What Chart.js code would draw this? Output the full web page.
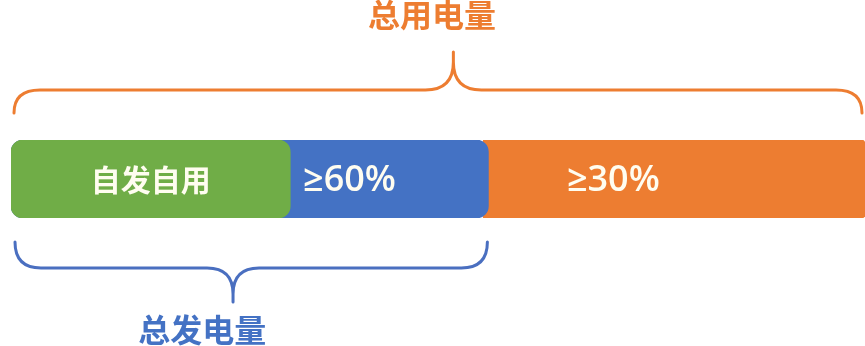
<!DOCTYPE html>
<html>
<head>
<meta charset="utf-8">
<script src="https://cdn.jsdelivr.net/npm/chart.js@4"></script>
<style>
  html, body { margin: 0; padding: 0; background: #ffffff; }
  #wrap { width: 865px; height: 346px; position: relative; }
</style>
</head>
<body>
<div id="wrap"><canvas id="powerChart"></canvas></div>
<script>
// one row: share of total consumption (0-100 along the bar)
var categories = ['用电量'];
var segmentLabels = ['自发自用', '≥60%', '≥30%'];
var segmentStart = [0, 0, 55.3];
var segmentEnd = [32.7, 55.9, 100];
var segmentColors = ['#70ad47', '#4472c4', '#ed7d31'];

var topTitle = '总用电量';
var bottomTitle = '总发电量';

// braces, labels and titles drawn on top of the bars
var annotations = {
    id: 'annotations',
    afterDatasetsDraw: function (chart) {
        var ctx = chart.ctx;
        var x = chart.scales.x;
        var area = chart.chartArea;
        var midY = (area.top + area.bottom) / 2;
        var px = function (v) { return x.getPixelForValue(v); };

        function brace(x0, x1, tipX, y, endY, tipY, re, rt, color) {
            var d = tipY < y ? -1 : 1;
            ctx.save();
            ctx.strokeStyle = color;
            ctx.lineWidth = 3;
            ctx.lineCap = 'round';
            ctx.beginPath();
            ctx.moveTo(x0, endY);
            ctx.quadraticCurveTo(x0, y, x0 + re, y);
            ctx.lineTo(tipX - rt, y);
            ctx.quadraticCurveTo(tipX, y, tipX, y + d * rt);
            ctx.lineTo(tipX, tipY);
            ctx.moveTo(tipX, y + d * rt);
            ctx.quadraticCurveTo(tipX, y, tipX + rt, y);
            ctx.lineTo(x1 - re, y);
            ctx.quadraticCurveTo(x1, y, x1, endY);
            ctx.stroke();
            ctx.restore();
        }

        // total consumption covers the whole bar, generation covers green + blue
        brace(px(segmentStart[0]) + 3, px(segmentEnd[2]) - 3, px(51.8), 90, 113, 52, 26, 28, '#ed7d31');
        brace(px(segmentStart[1]) + 4, px(segmentEnd[1]) - 1, px(26.0), 268, 242, 302, 26, 26, '#4a6fc0');

        ctx.save();
        ctx.textBaseline = 'middle';
        ctx.fillStyle = '#ed7d31';
        ctx.textAlign = 'center';
        ctx.font = 'bold 32px "Noto Sans CJK SC"';
        ctx.fillText(topTitle, px(49.3), 15);
        ctx.fillStyle = '#4472c4';
        ctx.fillText(bottomTitle, px(22.4), 330);

        ctx.fillStyle = '#fffdf0';
        ctx.font = 'bold 30px "Noto Sans CJK SC"';
        ctx.fillText(segmentLabels[0], px((segmentStart[0] + segmentEnd[0]) / 2), midY + 1);
        ctx.textAlign = 'left';
        ctx.font = '600 36px "Open Sans"';
        ctx.fillText(segmentLabels[1], px(34.2), midY + 2);
        ctx.fillText(segmentLabels[2], px(65.1), midY + 2);
        ctx.restore();
    }
};

var ctx1 = document.getElementById('powerChart');
var powerChart = new Chart(ctx1, {
    type: 'bar',
    data: {
        labels: categories,
        datasets: [
            {
                label: segmentLabels[0],
                data: [[segmentStart[0], segmentEnd[0]]],
                backgroundColor: segmentColors[0],
                borderRadius: 12,
                borderSkipped: false,
                grouped: false
            },
            {
                label: segmentLabels[1],
                data: [[segmentStart[1], segmentEnd[1]]],
                backgroundColor: segmentColors[1],
                borderRadius: 12,
                borderSkipped: false,
                grouped: false
            },
            {
                label: segmentLabels[2],
                data: [[segmentStart[2], segmentEnd[2]]],
                backgroundColor: segmentColors[2],
                borderRadius: { topRight: 4, bottomRight: 4 },
                borderSkipped: false,
                grouped: false
            }
        ]
    },
    options: {
        indexAxis: 'y',
        responsive: true,
        maintainAspectRatio: false,
        animation: false,
        datasets: {
            bar: { barPercentage: 1, categoryPercentage: 1 }
        },
        layout: {
            padding: { left: 11, right: 0, top: 140, bottom: 128 }
        },
        scales: {
            x: { min: 0, max: 100, display: false },
            y: { display: false }
        },
        plugins: {
            legend: { display: false },
            tooltip: { enabled: false }
        }
    },
    plugins: [annotations]
});
</script>
</body>
</html>
